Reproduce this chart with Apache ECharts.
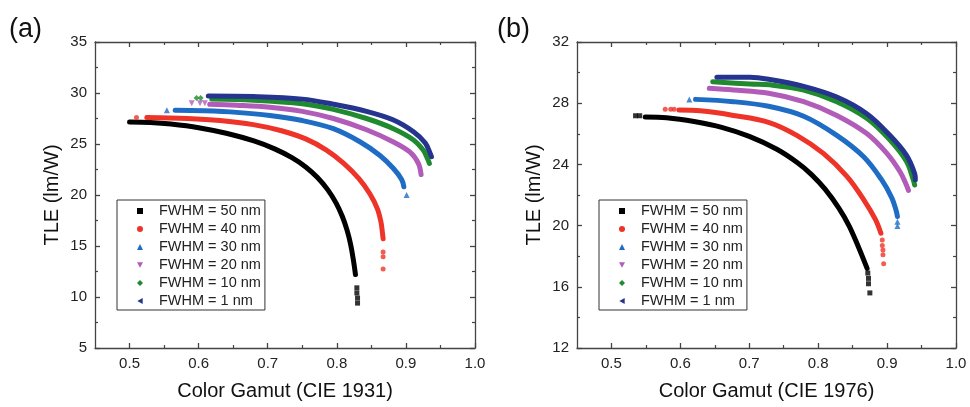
<!DOCTYPE html>
<html><head><meta charset="utf-8">
<script src="https://cdn.jsdelivr.net/npm/echarts@6/dist/echarts.min.js"></script>
<style>html,body{margin:0;padding:0;background:#fff}#c{width:970px;height:407px}</style>
</head><body><div id="c"></div>
<script>
// ---------- data ----------
const fwhmNames = ['FWHM = 50 nm','FWHM = 40 nm','FWHM = 30 nm','FWHM = 20 nm','FWHM = 10 nm','FWHM = 1 nm'];
const xTickLabels = [0.5, 0.6, 0.7, 0.8, 0.9, 1.0];
const xMinorTicks = [0.55, 0.65, 0.75, 0.85, 0.95];
const yTicksA = [5, 10, 15, 20, 25, 30, 35];
const yTicksB = [12, 16, 20, 24, 28, 32];

// Panel (a): CIE 1931
const a50Band = [[0.500,27.15],[0.530,27.1],[0.560,26.95],[0.600,26.6],[0.640,26.05],[0.680,25.3],[0.710,24.52],[0.735,23.66],[0.755,22.75],[0.772,21.71],[0.787,20.5],[0.799,19.2],[0.808,17.89],[0.815,16.51],[0.820,15.15],[0.824,13.61],[0.827,12.2]];
const a50Dots = [[0.829,10.9],[0.829,10.4],[0.830,9.9],[0.830,9.4]];
const a40Band = [[0.525,27.6],[0.583,27.5],[0.631,27.3],[0.679,26.9],[0.720,26.3],[0.755,25.5],[0.785,24.4],[0.810,23.1],[0.832,21.6],[0.848,20.1],[0.859,18.6],[0.864,17.3],[0.866,16.3],[0.867,15.7]];
const a40Dots = [[0.510,27.6],[0.867,14.4],[0.867,13.95],[0.867,12.75]];
const a30Band = [[0.566,28.3],[0.607,28.25],[0.655,28.1],[0.703,27.8],[0.750,27.3],[0.795,26.5],[0.834,25.2],[0.862,23.9],[0.882,22.6],[0.894,21.5],[0.897,20.8]];
const a30Dots = [[0.554,28.3],[0.901,20.0]];
const a20Band = [[0.616,28.9],[0.655,28.8],[0.703,28.6],[0.750,28.2],[0.795,27.5],[0.843,26.4],[0.882,25.2],[0.906,24.2],[0.918,23.1],[0.922,22.0]];
const a20Dots = [[0.590,29.0],[0.602,29.0],[0.609,29.0]];
const a10Band = [[0.619,29.4],[0.679,29.3],[0.750,28.95],[0.795,28.4],[0.843,27.5],[0.882,26.5],[0.911,25.4],[0.925,24.4],[0.931,23.6],[0.934,23.1]];
const a10Dots = [[0.597,29.5],[0.603,29.5]];
const a1Band = [[0.614,29.7],[0.679,29.65],[0.750,29.4],[0.795,28.9],[0.843,28.2],[0.882,27.35],[0.911,26.2],[0.928,25.1],[0.935,24.1],[0.937,23.75]];
const a1Dots = [];

// Panel (b): CIE 1976
const b50Band = [[0.549,27.1],[0.580,27.05],[0.620,26.8],[0.660,26.42],[0.700,25.83],[0.740,24.99],[0.770,24.11],[0.790,23.35],[0.810,22.38],[0.830,21.14],[0.845,19.97],[0.858,18.65],[0.871,17.2]];
const b50Dots = [[0.535,27.18],[0.541,27.18],[0.872,16.9],[0.873,16.55],[0.873,16.2],[0.875,15.6]];
const b40Band = [[0.598,27.55],[0.629,27.5],[0.677,27.2],[0.728,26.75],[0.769,25.9],[0.808,24.7],[0.842,23.2],[0.866,21.7],[0.883,20.4],[0.891,19.5]];
const b40Dots = [[0.578,27.6],[0.586,27.6],[0.591,27.6],[0.893,19.06],[0.893,18.7],[0.894,18.4],[0.894,18.1],[0.895,17.5]];
const b30Band = [[0.622,28.25],[0.677,28.1],[0.728,27.8],[0.779,27.15],[0.827,25.9],[0.866,24.5],[0.892,23.0],[0.907,21.8],[0.913,21.0],[0.915,20.6]];
const b30Dots = [[0.613,28.25],[0.915,20.25],[0.915,19.97]];
const b20Band = [[0.642,28.97],[0.677,28.86],[0.728,28.65],[0.779,28.1],[0.827,27.2],[0.871,26.0],[0.900,24.7],[0.919,23.5],[0.928,22.65],[0.931,22.3]];
const b20Dots = [];
const b10Band = [[0.647,29.4],[0.701,29.25],[0.730,29.2],[0.779,28.86],[0.827,28.1],[0.871,27.0],[0.904,25.6],[0.928,24.2],[0.938,23.0],[0.940,22.65]];
const b10Dots = [];
const b1Band = [[0.653,29.7],[0.701,29.7],[0.730,29.55],[0.779,29.1],[0.827,28.4],[0.871,27.3],[0.904,25.9],[0.928,24.6],[0.940,23.4],[0.941,23.0]];
const b1Dots = [];

// ---------- styling ----------
const FONT = '"Liberation Sans", Arial, sans-serif';
const colors = ['#000000','#ee3328','#1f6cc4','#b15cb8','#1f8a2e','#25348f'];
const symbols = ['rect','circle','triangle','path://M0,0 L10,0 L5,9 Z','diamond','path://M0,5 L9,0 L9,10 Z'];
const symbolSizes = [5,5,6,6,6,6];
const axisColor = '#444';

const bandsA = [a50Band,a40Band,a30Band,a20Band,a10Band,a1Band];
const dotsA = [a50Dots,a40Dots,a30Dots,a20Dots,a10Dots,a1Dots];
const bandsB = [b50Band,b40Band,b30Band,b20Band,b10Band,b1Band];
const dotsB = [b50Dots,b40Dots,b30Dots,b20Dots,b10Dots,b1Dots];

function xAxes(grid, title) {
  const base = {type:'value', gridIndex:grid, min:0.45, max:1.0, splitLine:{show:false}};
  return [
    Object.assign({}, base, {position:'bottom', name:title, nameLocation:'middle', nameGap:33,
      nameTextStyle:{fontFamily:FONT, fontSize:20, color:'#111'},
      axisLine:{show:true, lineStyle:{color:axisColor, width:1.3}},
      axisTick:{show:true, inside:true, length:5, customValues:xTickLabels, lineStyle:{color:axisColor, width:1.3}},
      axisLabel:{show:true, customValues:xTickLabels, margin:8, fontFamily:FONT, fontSize:15, color:'#222', formatter:v=>Number(v).toFixed(1)}}),
    Object.assign({}, base, {position:'bottom', axisLine:{show:false},
      axisTick:{show:true, inside:true, length:3, customValues:xMinorTicks, lineStyle:{color:axisColor, width:1.2}},
      axisLabel:{show:false}}),
    Object.assign({}, base, {position:'top', axisLine:{show:true, lineStyle:{color:axisColor, width:1.3}},
      axisTick:{show:true, inside:true, length:5, customValues:xTickLabels, lineStyle:{color:axisColor, width:1.3}},
      axisLabel:{show:false}}),
    Object.assign({}, base, {position:'top', axisLine:{show:false},
      axisTick:{show:true, inside:true, length:3, customValues:xMinorTicks, lineStyle:{color:axisColor, width:1.2}},
      axisLabel:{show:false}})
  ];
}
function yAxes(grid, ticks) {
  const base = {type:'value', gridIndex:grid, min:ticks[0], max:ticks[ticks.length-1], interval:ticks[1]-ticks[0],
    splitLine:{show:false},
    axisLine:{show:true, lineStyle:{color:axisColor, width:1.3}},
    axisTick:{show:true, inside:true, length:5, lineStyle:{color:axisColor, width:1.3}},
    minorTick:{show:true, splitNumber:2, length:3, lineStyle:{color:axisColor, width:1.2}}};
  return [
    Object.assign({}, base, {position:'left', name:'TLE (lm/W)', nameLocation:'middle', nameGap:33,
      nameTextStyle:{fontFamily:FONT, fontSize:20, color:'#111'},
      axisLabel:{show:true, margin:8, fontFamily:FONT, fontSize:15, color:'#222'}}),
    Object.assign({}, base, {position:'right', axisLabel:{show:false}})
  ];
}

const series = [];
function addPanel(bands, dots, xi, yi) {
  for (let i = 0; i < 6; i++) {
    series.push({type:'line', name:fwhmNames[i], data:bands[i], xAxisIndex:xi, yAxisIndex:yi,
      showSymbol:false, smooth:0.35, color:colors[i],
      lineStyle:{width:5, color:colors[i], cap:'round', join:'round'}, z:2+i});
    series.push({type:'scatter', name:fwhmNames[i], data:dots[i], xAxisIndex:xi, yAxisIndex:yi,
      symbol:symbols[i], symbolSize:symbolSizes[i], color:colors[i], itemStyle:{color:colors[i]}, z:2+i});
  }
}
addPanel(bandsA, dotsA, 0, 0);
addPanel(bandsB, dotsB, 4, 2);

function legend(left) {
  return {orient:'vertical', left:left, top:200, padding:[2,4,0,20], itemGap:0,
    itemWidth:6, itemHeight:6, selectedMode:false,
    borderColor:'#333', borderWidth:1, backgroundColor:'#fff',
    textStyle:{fontFamily:FONT, fontSize:14.5, color:'#222', lineHeight:18, padding:[0,0,0,11]},
    data:fwhmNames.map((n,i)=>({name:n, icon:symbols[i], itemStyle:{color:colors[i]}}))};
}

const option = {
  animation:false,
  backgroundColor:'#fff',
  grid:[{left:95, top:42, width:380, height:306}, {left:577, top:42, width:379, height:306}],
  xAxis:[...xAxes(0,'Color Gamut (CIE 1931)'), ...xAxes(1,'Color Gamut (CIE 1976)')],
  yAxis:[...yAxes(0,yTicksA), ...yAxes(1,yTicksB)],
  legend:[legend(117), legend(599)],
  graphic:[
    {type:'text', left:9, top:16, style:{text:'(a)', fontFamily:FONT, fontSize:27, fill:'#111'}},
    {type:'text', left:497, top:16, style:{text:'(b)', fontFamily:FONT, fontSize:27, fill:'#111'}}
  ],
  series:series
};
const chart = echarts.init(document.getElementById('c'), null, {renderer:'canvas'});
chart.setOption(option);
</script></body></html>
